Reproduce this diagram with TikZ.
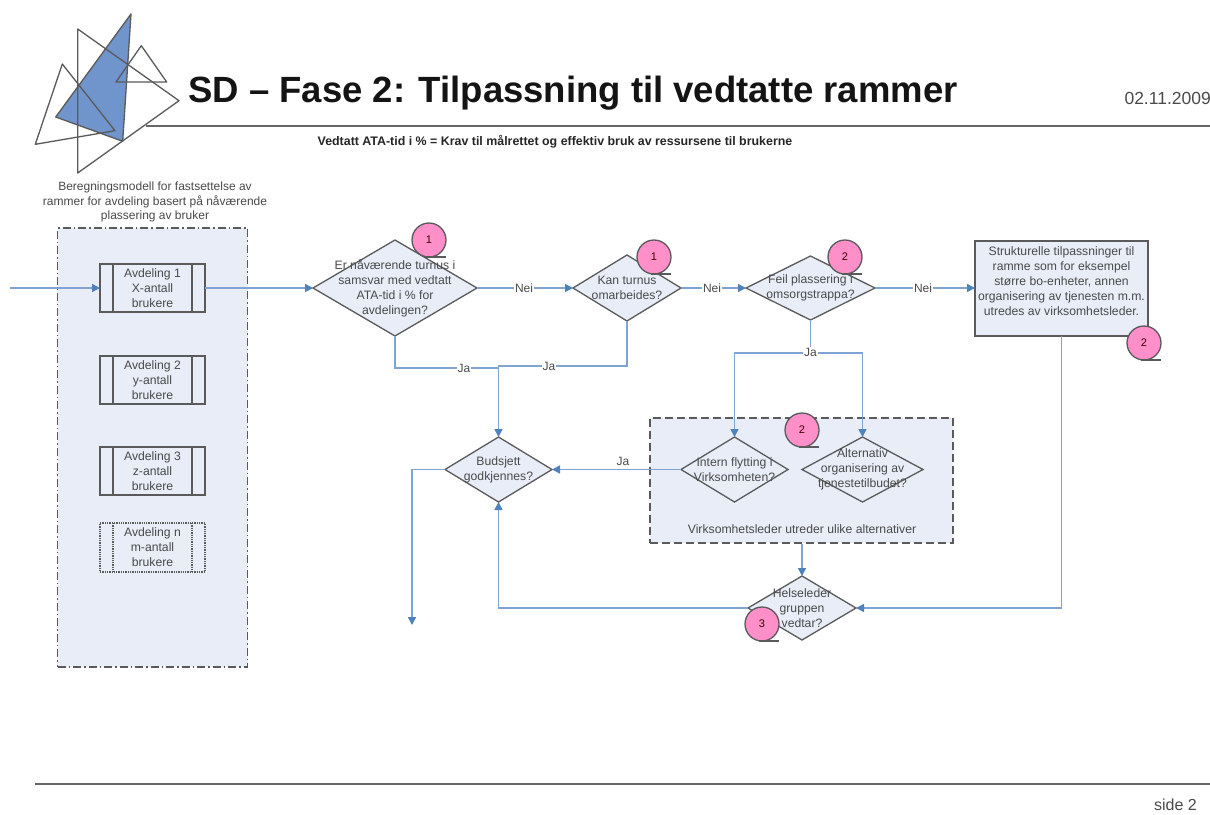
\documentclass[tikz,border=0pt]{standalone}
\usepackage{fontspec}
\setmainfont{Liberation Sans}
\usetikzlibrary{arrows.meta,shapes.geometric,calc}
\definecolor{panelfill}{HTML}{E8EDF8}
\definecolor{linkblue}{HTML}{7FA3D3}
\definecolor{tipblue}{HTML}{4F81BD}
\definecolor{edgegray}{HTML}{5A5A5A}
\definecolor{txtgray}{HTML}{4A4A4A}
\definecolor{badgepink}{HTML}{FF8FC9}
\definecolor{logoblue}{HTML}{7094CC}
\tikzset{
  x=1pt,y=-1pt,
  conn/.style={draw=linkblue,line width=1.6pt},
  tipped/.style={conn,-{Triangle[length=8pt,width=8pt,color=tipblue]}},
  dia/.style={diamond,draw=edgegray,fill=panelfill,line width=1.3pt,inner sep=0pt,outer sep=0pt},
  txt/.style={text=txtgray,font=\fontsize{12.2}{15}\selectfont,align=center,inner sep=0pt},
  lab/.style={text=txtgray,font=\fontsize{12}{14}\selectfont,inner sep=1pt,fill=white},
  dept/.style={draw=edgegray,fill=panelfill,line width=1.3pt,minimum width=105pt,minimum height=48pt,inner sep=0pt,outer sep=0pt,
     text=txtgray,font=\fontsize{12.2}{15}\selectfont,align=center},
  panelbox/.style={draw=edgegray,fill=panelfill,line width=1.5pt},
  badge/.style={circle,draw=edgegray,fill=badgepink,line width=1.3pt,minimum size=34pt,inner sep=0pt,outer sep=0pt,
     font=\fontsize{11}{13}\selectfont,text=black!70!red!80!black},
  badgeline/.style={draw=edgegray,line width=1.2pt},
  tri/.style={draw=edgegray,line width=1.3pt,line join=round},
  rule/.style={draw=black!60,line width=1.4pt},
}
\newcommand{\bars}[2][]{%
  \draw[edgegray,line width=1.3pt,#1] ($(#2.north west)+(13,0)$) -- ($(#2.south west)+(13,0)$);
  \draw[edgegray,line width=1.3pt,#1] ($(#2.north east)+(-13,0)$) -- ($(#2.south east)+(-13,0)$);}
\newcommand{\badgemark}[3]{%
  \node[badge] (#1) at (#2) {#3};
  \draw[badgeline] ($(#1.south)+(-3,0)$) -- ($(#1.south)+(17,0)$);}
\begin{document}
\begin{tikzpicture}
\useasboundingbox[fill=white] (0,0) rectangle (1210,814);
% logo
\fill[logoblue] (131,14) -- (55.7,117) -- (122.7,141.3) -- cycle;
\draw[tri] (131,14) -- (55.7,117) -- (122.7,141.3) -- cycle;
\draw[tri] (77.7,29) -- (179,100.7) -- (77.7,173) -- cycle;
\draw[tri] (62.3,64) -- (115,130.7) -- (35.3,144.3) -- cycle;
\draw[tri] (141.3,45.7) -- (166.7,82) -- (116,82) -- cycle;
% header and footer
\coordinate (hl) at (146,126); \coordinate (hr) at (1210,126);
\draw[rule] (hl) -- (hr);
\coordinate (fl) at (35,784); \coordinate (fr) at (1210,784);
\draw[rule] (fl) -- (fr);
\node[anchor=base west,inner sep=0pt,font=\fontsize{36.5}{40}\selectfont\bfseries,text=black!92] (title) at (188,102) {SD – Fase 2: Tilpassning til vedtatte rammer};
\node[anchor=east,inner sep=0pt,font=\fontsize{17.5}{19}\selectfont,text=txtgray] (date) at (1211,98) {02.11.2009};
\node[inner sep=0pt,font=\fontsize{12.4}{14}\selectfont\bfseries,text=black!85] (sub) at (555,142) {Vedtatt ATA-tid i \% = Krav til målrettet og effektiv bruk av ressursene til brukerne};
\node[anchor=east,inner sep=0pt,font=\fontsize{16}{18}\selectfont,text=txtgray] (side) at (1197,805) {side 2};
\node[inner sep=0pt,align=center,text=txtgray,font=\fontsize{12}{14.3}\selectfont] (cap) at (155,202) {Beregningsmodell for fastsettelse av\\rammer for avdeling basert på nåværende\\plassering av bruker};
% panels
\node[panelbox,dash pattern=on 8pt off 3pt on 1.5pt off 3pt,minimum width=190pt,minimum height=439pt,inner sep=0pt] (left) at (152.5,447.5) {};
\node[panelbox,dash pattern=on 8pt off 4pt,minimum width=303pt,minimum height=125pt,inner sep=0pt] (grp) at (801.5,480.5) {};
% department boxes
\node[dept] (b1) at (152.5,288) {Avdeling 1\\X-antall\\brukere};
\node[dept] (b2) at (152.5,380) {Avdeling 2\\y-antall\\brukere};
\node[dept] (b3) at (152.5,471) {Avdeling 3\\z-antall\\brukere};
\node[dept,densely dotted,minimum height=49pt] (b4) at (152.5,547.5) {Avdeling n\\m-antall\\brukere};
\bars{b1}\bars{b2}\bars{b3}\bars[densely dotted]{b4}
% decision shapes
\node[dia,minimum width=164pt,minimum height=96pt] (d1) at (395,288) {};
\node[dia,minimum width=108pt,minimum height=66pt] (d2) at (627,288) {};
\node[dia,minimum width=129pt,minimum height=64pt] (d3) at (810.5,288) {};
\node[dia,minimum width=107pt,minimum height=65pt] (bud) at (498.5,469.5) {};
\node[dia,minimum width=107pt,minimum height=65pt] (int) at (734.5,469.5) {};
\node[dia,minimum width=121pt,minimum height=65pt] (alt) at (862.5,469.5) {};
\node[dia,minimum width=108pt,minimum height=64pt] (hel) at (802,608) {};
\node[draw=edgegray,fill=panelfill,line width=2pt,minimum width=173pt,minimum height=95pt,inner sep=0pt,outer sep=0pt] (st) at (1061.5,288) {};
% free-end coordinates
\coordinate (in) at (10,288);
\coordinate (end) at (412,625);
\coordinate (merge) at (498.5,368);
\coordinate (split) at (810.5,353);
% connectors
\draw[tipped] (in) -- (b1.west);
\draw[tipped] (b1.east) -- (d1.west);
\draw[tipped] (d1.east) -- (d2.west);
\draw[tipped] (d2.east) -- (d3.west);
\draw[tipped] (d3.east) -- (st.west);
\draw[conn] (d1.south) |- (merge);
\draw[conn] (d2.south) |- ($(merge)+(0,-2)$) -- (merge);
\draw[tipped] (merge) -- (bud.north);
\draw[conn] (d3.south) -- (split);
\draw[tipped] (split) -| (int.north);
\draw[tipped] (split) -| (alt.north);
\draw[tipped] (int.west) -- (bud.east);
\draw[tipped] (bud.west) -| (end);
\draw[tipped] (hel.west) -| (bud.south);
\draw[tipped] (grp.south -| hel.north) -- (hel.north);
\draw[tipped] (st.south) |- (hel.east);
% connector labels
\node[lab] (n1) at (524,288) {Nei};
\node[lab] (n2) at (712,288) {Nei};
\node[lab] (n3) at (923,288) {Nei};
\node[lab] (j1) at (464,368) {Ja};
\node[lab] (j2) at (549,366) {Ja};
\node[lab] (j3) at (810.5,352) {Ja};
\node[lab,fill=none] (j4) at (623,461) {Ja};
% badges
\badgemark{c1}{429,240}{1}
\badgemark{c2}{654,257}{1}
\badgemark{c3}{845,257}{2}
\badgemark{c4}{802,430}{2}
\badgemark{c5}{762,624}{3}
\badgemark{c6}{1144,343}{2}
% texts
\node[txt] (t1) at (d1) {Er nåværende turnus i\\samsvar med vedtatt\\ATA-tid i \% for\\avdelingen?};
\node[txt] (t2) at (d2) {Kan turnus\\omarbeides?};
\node[txt] (t3) at (d3) {Feil plassering i\\omsorgstrappa?};
\node[txt] (t4) at (bud) {Budsjett\\godkjennes?};
\node[txt] (t5) at (int) {Intern flytting i\\Virksomheten?};
\node[txt] (t6) at (alt) {Alternativ\\organisering av\\tjenestetilbudet?};
\node[txt] (t7) at (hel) {Helseleder\\gruppen\\vedtar?};
\node[txt] (t8) at (1061.5,281) {Strukturelle tilpassninger til\\ramme som for eksempel\\større bo-enheter, annen\\organisering av tjenesten m.m.\\utredes av virksomhetsleder.};
\node[txt] (t9) at (802,529) {Virksomhetsleder utreder ulike alternativer};
\end{tikzpicture}
\end{document}
